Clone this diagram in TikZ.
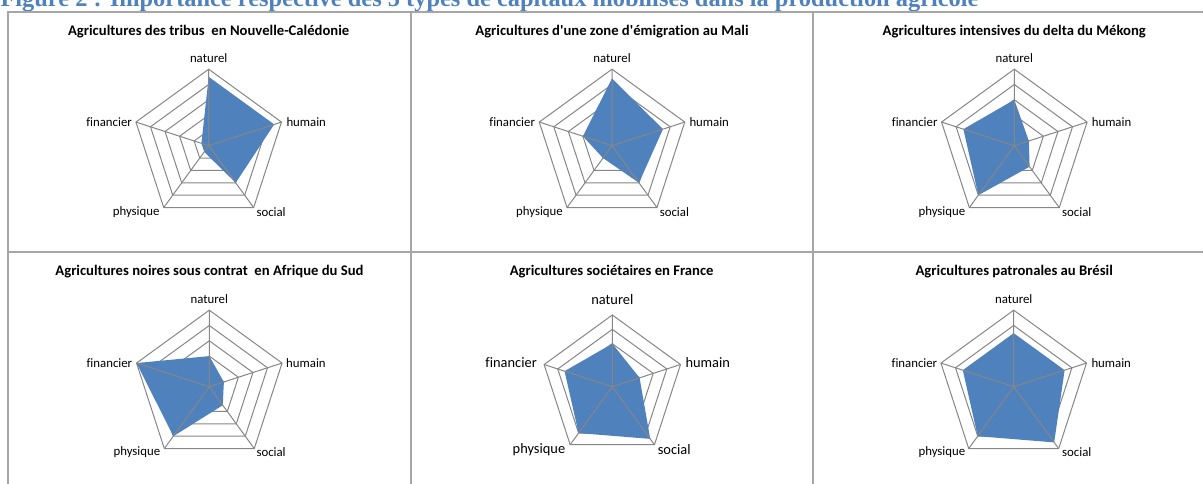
\documentclass[tikz,border=0pt]{standalone}
\usepackage{fontspec}
\setmainfont{Carlito}[Ligatures=NoCommon]
\newfontfamily\figtitlefont{Liberation Serif}

\tikzset{every picture/.style={line width=0.75pt}}
\tikzset{
	gridline/.style={color={rgb, 255:red, 134; green, 134; blue, 134 }, draw opacity=1},
	seriesfill/.style={fill={rgb, 255:red, 79; green, 129; blue, 189 }, fill opacity=1},
	panelline/.style={color={rgb, 255:red, 166; green, 166; blue, 166 }, line width=0.9pt},
	charttitle/.style={font=\fontsize{11}{13}\selectfont\bfseries, inner sep=0pt},
	axislabel/.style={font=\fontsize{9.6}{11}\selectfont, inner sep=0pt},
	axislabelbig/.style={font=\fontsize{10.8}{12}\selectfont, inner sep=0pt}}

\begin{document}
\begin{tikzpicture}[x=0.75pt,y=0.75pt,yscale=-1,xscale=1]
	\useasboundingbox (0,0) rectangle (1203,484);
	\clip (0,0) rectangle (1203,484);

	% Text Node
	\node (figtitle) [anchor=base west, inner sep=0pt, text={rgb, 255:red, 79; green, 129; blue, 189 }, font=\figtitlefont\bfseries\fontsize{18.3}{20}\selectfont] at (0,6.8) {Figure 2 : Importance respective des 5 types de capitaux mobilisés dans la production agricole};

	%Straight Lines [panel frame]
	\draw [panelline] (8,484) -- (8,12) -- (1203,12) ;
	\draw [panelline] (8,252) -- (1203,252) ;
	\draw [panelline] (411,12) -- (411,484) ;
	\draw [panelline] (813,12) -- (813,484) ;

	%Shape: Radar grid [Nouvelle-Caledonie]
	\draw [gridline] (208.7,145.7) +(-90:76.5) -- +(-18:76.5) -- +(54:76.5) -- +(126:76.5) -- +(198:76.5) -- cycle ;
	\draw [gridline] (208.7,145.7) +(-90:61.2) -- +(-18:61.2) -- +(54:61.2) -- +(126:61.2) -- +(198:61.2) -- cycle ;
	\draw [gridline] (208.7,145.7) +(-90:45.9) -- +(-18:45.9) -- +(54:45.9) -- +(126:45.9) -- +(198:45.9) -- cycle ;
	\draw [gridline] (208.7,145.7) +(-90:30.6) -- +(-18:30.6) -- +(54:30.6) -- +(126:30.6) -- +(198:30.6) -- cycle ;
	\draw [gridline] (208.7,145.7) +(-90:15.3) -- +(-18:15.3) -- +(54:15.3) -- +(126:15.3) -- +(198:15.3) -- cycle ;
	%Shape: Polygon [series]
	\fill [seriesfill] (208.7,145.7) +(-90:68.85) -- +(-18:68.85) -- +(54:45.9) -- +(126:7.65) -- +(198:7.65) -- cycle ;
	%Straight Lines [spokes]
	\draw [gridline] (208.7,145.7) -- +(-90:76.5) (208.7,145.7) -- +(-18:76.5) (208.7,145.7) -- +(54:76.5) (208.7,145.7) -- +(126:76.5) (208.7,145.7) -- +(198:76.5) ;
	% Text Node
	\node (title1) [charttitle] at (208.7,31.7) {Agricultures des tribus\ \ en Nouvelle-Calédonie};
	\node (nat1) [axislabel] at (208.7,58.3) {naturel};
	\node (hum1) [axislabel, anchor=west] at (286,122) {humain};
	\node (fin1) [axislabel, anchor=east] at (132.4,122) {financier};
	\node (phy1) [axislabel, anchor=east] at (160,212) {physique};
	\node (soc1) [axislabel, anchor=west] at (256,212) {social};

	%Shape: Radar grid [Mali]
	\draw [gridline] (612,145.7) +(-90:76.5) -- +(-18:76.5) -- +(54:76.5) -- +(126:76.5) -- +(198:76.5) -- cycle ;
	\draw [gridline] (612,145.7) +(-90:61.2) -- +(-18:61.2) -- +(54:61.2) -- +(126:61.2) -- +(198:61.2) -- cycle ;
	\draw [gridline] (612,145.7) +(-90:45.9) -- +(-18:45.9) -- +(54:45.9) -- +(126:45.9) -- +(198:45.9) -- cycle ;
	\draw [gridline] (612,145.7) +(-90:30.6) -- +(-18:30.6) -- +(54:30.6) -- +(126:30.6) -- +(198:30.6) -- cycle ;
	\draw [gridline] (612,145.7) +(-90:15.3) -- +(-18:15.3) -- +(54:15.3) -- +(126:15.3) -- +(198:15.3) -- cycle ;
	%Shape: Polygon [series]
	\fill [seriesfill] (612,145.7) +(-90:67.3) -- +(-18:53.55) -- +(54:45.9) -- +(126:15.3) -- +(198:30.6) -- cycle ;
	%Straight Lines [spokes]
	\draw [gridline] (612,145.7) -- +(-90:76.5) (612,145.7) -- +(-18:76.5) (612,145.7) -- +(54:76.5) (612,145.7) -- +(126:76.5) (612,145.7) -- +(198:76.5) ;
	% Text Node
	\node (title2) [charttitle] at (612,31.7) {Agricultures d\textquotesingle une zone d\textquotesingle émigration au Mali};
	\node (nat2) [axislabel] at (612,58.3) {naturel};
	\node (hum2) [axislabel, anchor=west] at (689,122) {humain};
	\node (fin2) [axislabel, anchor=east] at (535.5,122) {financier};
	\node (phy2) [axislabel, anchor=east] at (563.3,212) {physique};
	\node (soc2) [axislabel, anchor=west] at (659.3,212) {social};

	%Shape: Radar grid [Mekong]
	\draw [gridline] (1014.3,145.7) +(-90:76.5) -- +(-18:76.5) -- +(54:76.5) -- +(126:76.5) -- +(198:76.5) -- cycle ;
	\draw [gridline] (1014.3,145.7) +(-90:61.2) -- +(-18:61.2) -- +(54:61.2) -- +(126:61.2) -- +(198:61.2) -- cycle ;
	\draw [gridline] (1014.3,145.7) +(-90:45.9) -- +(-18:45.9) -- +(54:45.9) -- +(126:45.9) -- +(198:45.9) -- cycle ;
	\draw [gridline] (1014.3,145.7) +(-90:30.6) -- +(-18:30.6) -- +(54:30.6) -- +(126:30.6) -- +(198:30.6) -- cycle ;
	\draw [gridline] (1014.3,145.7) +(-90:15.3) -- +(-18:15.3) -- +(54:15.3) -- +(126:15.3) -- +(198:15.3) -- cycle ;
	%Shape: Polygon [series]
	\fill [seriesfill] (1014.3,145.7) +(-90:45.9) -- +(-18:15.3) -- +(54:26) -- +(126:61.2) -- +(198:53.55) -- cycle ;
	%Straight Lines [spokes]
	\draw [gridline] (1014.3,145.7) -- +(-90:76.5) (1014.3,145.7) -- +(-18:76.5) (1014.3,145.7) -- +(54:76.5) (1014.3,145.7) -- +(126:76.5) (1014.3,145.7) -- +(198:76.5) ;
	% Text Node
	\node (title3) [charttitle] at (1014.3,31.7) {Agricultures intensives du delta du Mékong};
	\node (nat3) [axislabel] at (1014.3,58.3) {naturel};
	\node (hum3) [axislabel, anchor=west] at (1091.3,122) {humain};
	\node (fin3) [axislabel, anchor=east] at (938,122) {financier};
	\node (phy3) [axislabel, anchor=east] at (965.7,212) {physique};
	\node (soc3) [axislabel, anchor=west] at (1061.7,212) {social};

	%Shape: Radar grid [Afrique du Sud]
	\draw [gridline] (209.3,386.7) +(-90:76.5) -- +(-18:76.5) -- +(54:76.5) -- +(126:76.5) -- +(198:76.5) -- cycle ;
	\draw [gridline] (209.3,386.7) +(-90:61.2) -- +(-18:61.2) -- +(54:61.2) -- +(126:61.2) -- +(198:61.2) -- cycle ;
	\draw [gridline] (209.3,386.7) +(-90:45.9) -- +(-18:45.9) -- +(54:45.9) -- +(126:45.9) -- +(198:45.9) -- cycle ;
	\draw [gridline] (209.3,386.7) +(-90:30.6) -- +(-18:30.6) -- +(54:30.6) -- +(126:30.6) -- +(198:30.6) -- cycle ;
	\draw [gridline] (209.3,386.7) +(-90:15.3) -- +(-18:15.3) -- +(54:15.3) -- +(126:15.3) -- +(198:15.3) -- cycle ;
	%Shape: Polygon [series]
	\fill [seriesfill] (209.3,386.7) +(-90:30.6) -- +(-18:15.3) -- +(54:22.95) -- +(126:61.2) -- +(198:76.5) -- cycle ;
	%Straight Lines [spokes]
	\draw [gridline] (209.3,386.7) -- +(-90:76.5) (209.3,386.7) -- +(-18:76.5) (209.3,386.7) -- +(54:76.5) (209.3,386.7) -- +(126:76.5) (209.3,386.7) -- +(198:76.5) ;
	% Text Node
	\node (title4) [charttitle] at (209.5,271.7) {Agricultures noires sous contrat\ \ en Afrique du Sud};
	\node (nat4) [axislabel] at (209.3,299) {naturel};
	\node (hum4) [axislabel, anchor=west] at (285.7,363) {humain};
	\node (fin4) [axislabel, anchor=east] at (132.7,363) {financier};
	\node (phy4) [axislabel, anchor=east] at (160.7,452) {physique};
	\node (soc4) [axislabel, anchor=west] at (256,452) {social};

	%Shape: Radar grid [France]
	\draw [gridline] (612.3,386.7) +(-90:71.7) -- +(-18:71.7) -- +(54:71.7) -- +(126:71.7) -- +(198:71.7) -- cycle ;
	\draw [gridline] (612.3,386.7) +(-90:57.36) -- +(-18:57.36) -- +(54:57.36) -- +(126:57.36) -- +(198:57.36) -- cycle ;
	\draw [gridline] (612.3,386.7) +(-90:43.02) -- +(-18:43.02) -- +(54:43.02) -- +(126:43.02) -- +(198:43.02) -- cycle ;
	\draw [gridline] (612.3,386.7) +(-90:28.68) -- +(-18:28.68) -- +(54:28.68) -- +(126:28.68) -- +(198:28.68) -- cycle ;
	\draw [gridline] (612.3,386.7) +(-90:14.34) -- +(-18:14.34) -- +(54:14.34) -- +(126:14.34) -- +(198:14.34) -- cycle ;
	%Shape: Polygon [series]
	\fill [seriesfill] (612.3,386.7) +(-90:43.02) -- +(-18:28.68) -- +(54:64.5) -- +(126:57.36) -- +(198:50.2) -- cycle ;
	%Straight Lines [spokes]
	\draw [gridline] (612.3,386.7) -- +(-90:71.7) (612.3,386.7) -- +(-18:71.7) (612.3,386.7) -- +(54:71.7) (612.3,386.7) -- +(126:71.7) (612.3,386.7) -- +(198:71.7) ;
	% Text Node
	\node (title5) [charttitle] at (611.7,271.7) {Agricultures sociétaires en France};
	\node (nat5) [axislabelbig] at (612.3,299.3) {naturel};
	\node (hum5) [axislabelbig, anchor=west] at (685,363) {humain};
	\node (fin5) [axislabelbig, anchor=east] at (537.3,363) {financier};
	\node (phy5) [axislabelbig, anchor=east] at (565.7,449.3) {physique};
	\node (soc5) [axislabelbig, anchor=west] at (657.3,449.3) {social};

	%Shape: Radar grid [Bresil]
	\draw [gridline] (1013.7,386.7) +(-90:76.5) -- +(-18:76.5) -- +(54:76.5) -- +(126:76.5) -- +(198:76.5) -- cycle ;
	\draw [gridline] (1013.7,386.7) +(-90:61.2) -- +(-18:61.2) -- +(54:61.2) -- +(126:61.2) -- +(198:61.2) -- cycle ;
	\draw [gridline] (1013.7,386.7) +(-90:45.9) -- +(-18:45.9) -- +(54:45.9) -- +(126:45.9) -- +(198:45.9) -- cycle ;
	\draw [gridline] (1013.7,386.7) +(-90:30.6) -- +(-18:30.6) -- +(54:30.6) -- +(126:30.6) -- +(198:30.6) -- cycle ;
	\draw [gridline] (1013.7,386.7) +(-90:15.3) -- +(-18:15.3) -- +(54:15.3) -- +(126:15.3) -- +(198:15.3) -- cycle ;
	%Shape: Polygon [series]
	\fill [seriesfill] (1013.7,386.7) +(-90:53.55) -- +(-18:53.55) -- +(54:68.85) -- +(126:61.2) -- +(198:53.55) -- cycle ;
	%Straight Lines [spokes]
	\draw [gridline] (1013.7,386.7) -- +(-90:76.5) (1013.7,386.7) -- +(-18:76.5) (1013.7,386.7) -- +(54:76.5) (1013.7,386.7) -- +(126:76.5) (1013.7,386.7) -- +(198:76.5) ;
	% Text Node
	\node (title6) [charttitle] at (1014.2,271.7) {Agricultures patronales au Brésil};
	\node (nat6) [axislabel] at (1013.7,299) {naturel};
	\node (hum6) [axislabel, anchor=west] at (1091,363) {humain};
	\node (fin6) [axislabel, anchor=east] at (937.7,363) {financier};
	\node (phy6) [axislabel, anchor=east] at (965.7,452) {physique};
	\node (soc6) [axislabel, anchor=west] at (1061.7,452) {social};

\end{tikzpicture}
\end{document}
